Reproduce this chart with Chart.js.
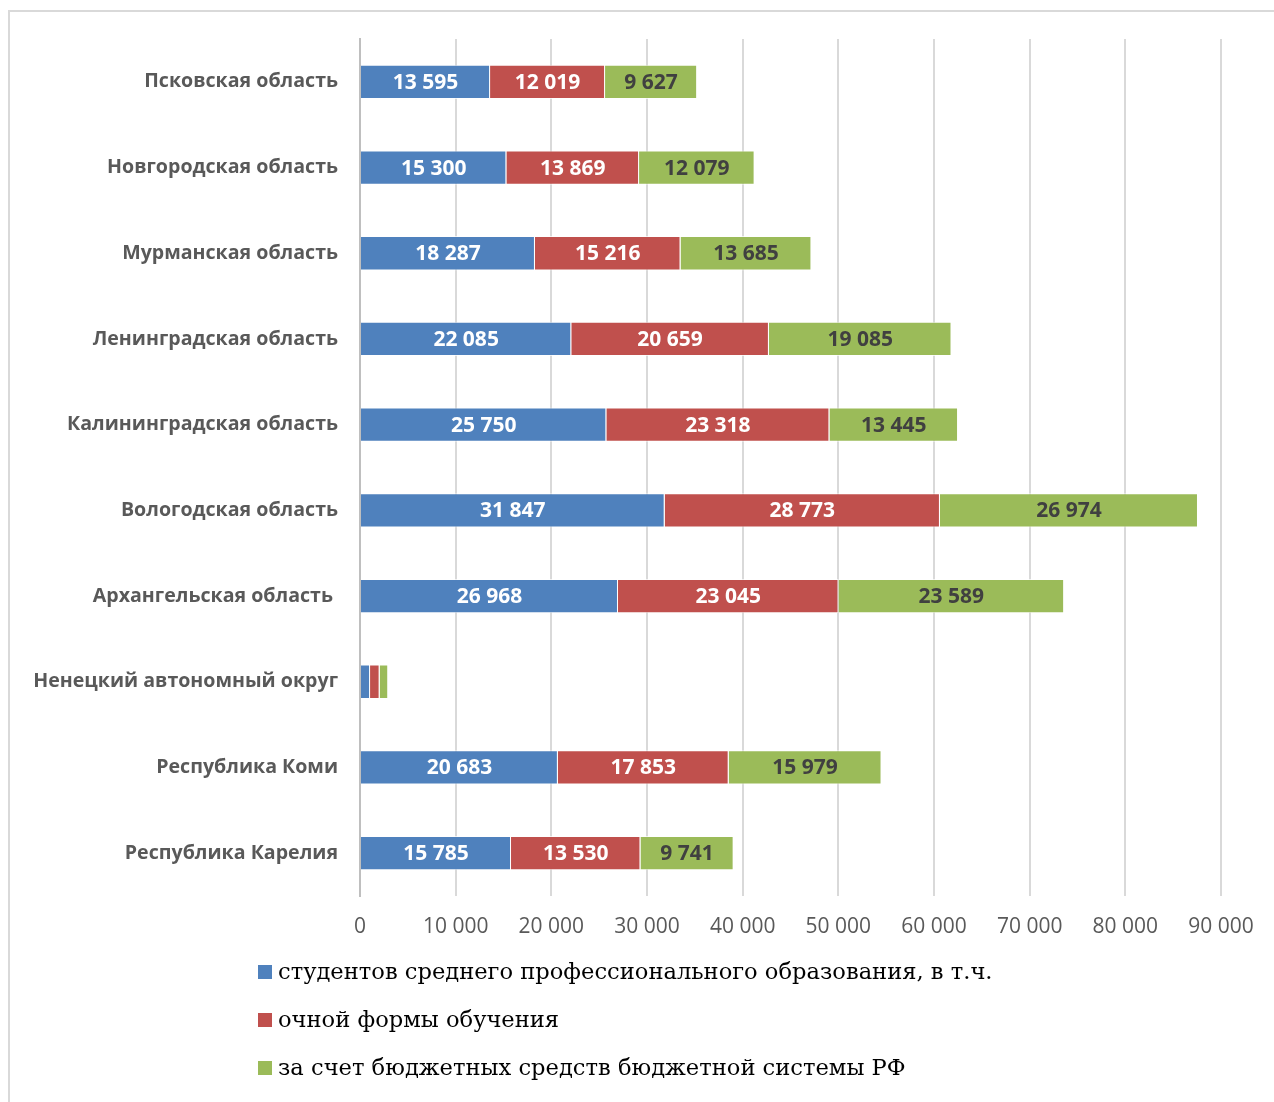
<!DOCTYPE html>
<html>
<head>
<meta charset="utf-8">
<script src="https://cdn.jsdelivr.net/npm/chart.js@4/dist/chart.umd.min.js"></script>
<style>
  html, body { margin: 0; padding: 0; background: #fff; overflow: hidden; }
  #wrap { position: relative; width: 1274px; height: 1102px; }
  #frame { position: absolute; left: 8px; top: 10px; width: 1400px; height: 1200px; border: 2px solid #d9d9d9; box-sizing: border-box; }
  canvas { position: absolute; left: 0; top: 0; }
</style>
</head>
<body>
<div id="wrap">
  <div id="frame"></div>
  <canvas id="chart" width="1274" height="1102"></canvas>
</div>
<script>
const regions = [
  "Псковская область",
  "Новгородская область",
  "Мурманская область",
  "Ленинградская область",
  "Калининградская область",
  "Вологодская область",
  "Архангельская область ",
  "Ненецкий автономный округ",
  "Республика Коми",
  "Республика Карелия"
];
const students = [13595, 15300, 18287, 22085, 25750, 31847, 26968, 1050, 20683, 15785];
const fullTime = [12019, 13869, 15216, 20659, 23318, 28773, 23045, 1000, 17853, 13530];
const budget = [9627, 12079, 13685, 19085, 13445, 26974, 23589, 900, 15979, 9741];
const seriesNames = [
  "студентов среднего профессионального образования, в т.ч.",
  "очной формы обучения",
  "за счет бюджетных средств бюджетной системы РФ"
];
const colors = ["#4f81bd", "#c0504d", "#9bbb59"];
const labelColors = ["#ffffff", "#ffffff", "#404040"];

const fmt = v => String(v).replace(/\B(?=(\d{3})+(?!\d))/g, " ");

const barLabels = {
  id: "barLabels",
  afterDatasetsDraw(chart) {
    const ctx = chart.ctx;
    ctx.save();
    ctx.font = "bold 21px 'Open Sans'";
    ctx.textAlign = "center";
    ctx.textBaseline = "middle";
    chart.data.datasets.forEach((ds, i) => {
      chart.getDatasetMeta(i).data.forEach((bar, j) => {
        if (Math.abs(bar.x - bar.base) < 40) return;
        ctx.fillStyle = labelColors[i];
        ctx.fillText(fmt(ds.data[j]), (bar.x + bar.base) / 2, bar.y + 1);
      });
    });
    ctx.restore();
  }
};

const legendList = {
  id: "legendList",
  afterDraw(chart) {
    const ctx = chart.ctx;
    ctx.save();
    ctx.font = "22.6px 'DejaVu Serif'";
    ctx.textBaseline = "middle";
    chart.data.datasets.forEach((ds, i) => {
      const y = 972 + i * 48;
      ctx.fillStyle = ds.backgroundColor;
      ctx.fillRect(258, y - 7, 14, 14);
      ctx.fillStyle = "#000000";
      ctx.fillText(ds.label, 278, y + 1);
    });
    ctx.restore();
  }
};

new Chart(document.getElementById("chart"), {
  type: "bar",
  data: {
    labels: regions,
    datasets: [students, fullTime, budget].map((d, i) => ({
      label: seriesNames[i],
      data: d,
      backgroundColor: colors[i],
      borderColor: "rgba(255,255,255,0.7)",
      borderWidth: 1,
      barPercentage: 0.4,
      categoryPercentage: 1
    }))
  },
  options: {
    indexAxis: "y",
    responsive: false,
    animation: false,
    layout: { padding: { left: 0, right: 53, top: 39, bottom: 146 } },
    scales: {
      x: {
        stacked: true,
        min: 0,
        max: 90000,
        afterFit: s => { s.height = 60; },
        ticks: {
          stepSize: 10000,
          padding: 18,
          color: "#595959",
          font: { family: "Open Sans", size: 21 },
          callback: v => fmt(v)
        },
        grid: { color: "#d9d9d9", lineWidth: 2, drawTicks: false },
        border: { display: false }
      },
      y: {
        stacked: true,
        afterFit: s => { s.width = 360; },
        ticks: {
          padding: 22,
          color: "#595959",
          font: { family: "Open Sans", size: 19.6, weight: "bold" }
        },
        grid: { display: false, drawTicks: false },
        border: { color: "#bfbfbf", width: 2 }
      }
    },
    plugins: {
      legend: { display: false },
      tooltip: { enabled: false }
    }
  },
  plugins: [barLabels, legendList]
});
</script>
</body>
</html>
